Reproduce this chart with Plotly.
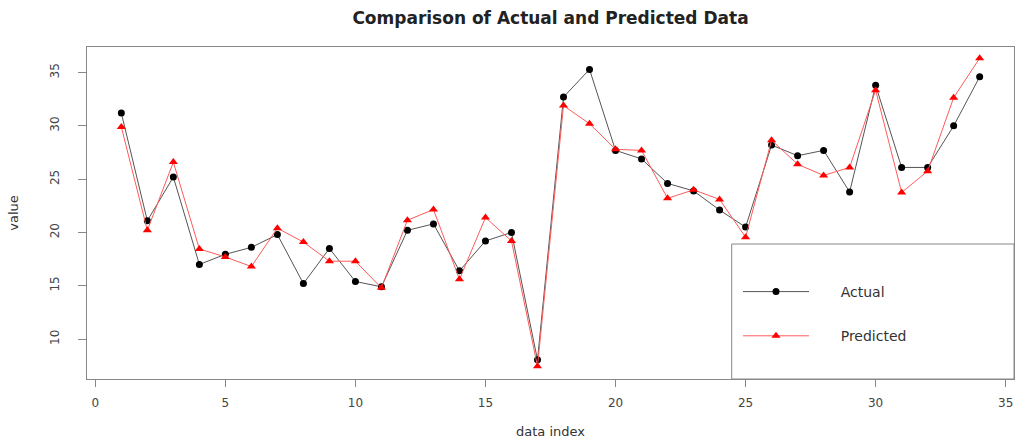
import plotly.graph_objects as go

index = list(range(1, 35))
actual = [31.2, 21.1, 25.2, 17.0, 17.95, 18.6, 19.8, 15.2, 18.5, 15.4,
          14.9, 20.2, 20.8, 16.4, 19.2, 20.0, 8.05, 32.7, 35.3, 27.7,
          26.9, 24.6, 23.9, 22.1, 20.5, 28.2, 27.2, 27.7, 23.8, 33.8,
          26.1, 26.1, 30.0, 34.6]
predicted = [29.9, 20.2, 26.6, 18.45, 17.7, 16.8, 20.4, 19.1, 17.3, 17.3,
             14.8, 21.15, 22.15, 15.6, 21.4, 19.2, 7.45, 31.9, 30.2, 27.8,
             27.7, 23.2, 24.0, 23.1, 19.55, 28.65, 26.4, 25.35, 26.1, 33.35,
             23.75, 25.75, 32.65, 36.35]
x_ticks = [0, 5, 10, 15, 20, 25, 30, 35]
y_ticks = [10, 15, 20, 25, 30, 35]

FONT = "DejaVu Sans"
PAD = "\u00a0" * 6

fig = go.Figure()
fig.add_trace(go.Scatter(
    x=index, y=actual, mode="lines+markers", name=PAD + "Actual",
    legendgroup="a",
    line=dict(color="#555555", width=1),
    marker=dict(symbol="circle", size=7, color="black"),
))
fig.add_trace(go.Scatter(
    x=index, y=predicted, mode="lines+markers", name=PAD + "Predicted",
    legendgroup="p",
    line=dict(color="#ff5a5a", width=1),
    marker=dict(symbol="triangle-up", size=8, color="red"),
))

fig.update_layout(
    width=1018, height=439,
    margin=dict(l=87, r=4, t=47, b=60, autoexpand=False),
    paper_bgcolor="white", plot_bgcolor="white",
    font=dict(family=FONT, color="#333333"),
    title=dict(
        text="Comparison of Actual and Predicted Data",
        x=0.5, xref="paper", xanchor="center",
        y=1 - 18 / 439, yref="container", yanchor="middle",
        font=dict(family=FONT, size=17, weight="bold", color="#222222"),
    ),
    showlegend=True,
    legend=dict(
        x=(738 - 87) / 927, xanchor="left",
        y=(379 - 276) / 332, yanchor="top",
        bgcolor="rgba(0,0,0,0)", borderwidth=0,
        itemwidth=66, tracegroupgap=23,
        font=dict(family=FONT, size=14, color="#333333"),
    ),
    shapes=[dict(
        type="rect", xref="paper", yref="paper",
        x0=(731.7 - 87) / 927, x1=1.0, y0=0, y1=(379 - 244) / 332,
        line=dict(color="#888888", width=1), fillcolor="rgba(0,0,0,0)",
        layer="above",
    )],
)

fig.update_xaxes(
    range=[-0.32, 35.32], tickvals=x_ticks, ticktext=[str(v) for v in x_ticks],
    showgrid=False, zeroline=False, automargin=False,
    showline=True, linecolor="#888888", linewidth=1, mirror=True,
    ticks="outside", ticklen=7, tickcolor="#888888",
    ticklabelstandoff=6,
    tickfont=dict(family=FONT, size=12, color="#444444"),
    title=dict(text="data index", standoff=17,
               font=dict(family=FONT, size=13, color="#333333")),
)
fig.update_yaxes(
    range=[6.25, 37.4], tickvals=y_ticks, ticktext=[str(v) for v in y_ticks],
    showgrid=False, zeroline=False, automargin=False,
    showline=True, linecolor="#888888", linewidth=1, mirror=True,
    ticks="outside", ticklen=8, tickcolor="#888888",
    tickangle=-90, ticklabelstandoff=14,
    tickfont=dict(family=FONT, size=12, color="#444444"),
    title=dict(text="value", standoff=26,
               font=dict(family=FONT, size=13, color="#333333")),
)

fig.write_html("out.html", config={"displayModeBar": False},
               post_script="document.body.style.margin='0';")
